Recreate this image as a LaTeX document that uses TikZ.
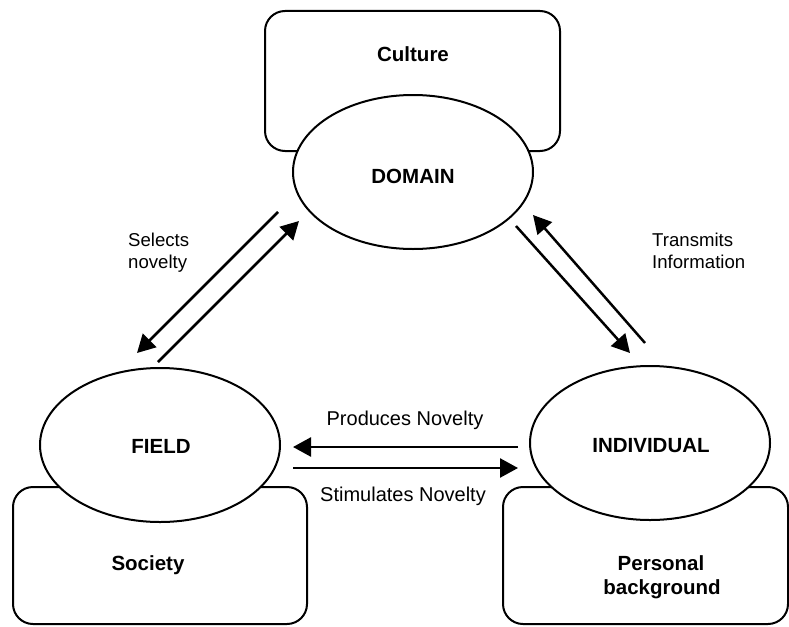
\documentclass[tikz,border=0pt]{standalone}
\usepackage{fontspec}
\setmainfont{Liberation Sans}
\usetikzlibrary{arrows.meta,shapes.geometric}
\tikzset{
  boxstyle/.style={draw=black, line width=2pt, rounded corners=20pt},
  ellstyle/.style={draw=black, fill=white, line width=2pt, ellipse, inner sep=0pt, minimum width=240pt, minimum height=154pt},
  boldlabel/.style={font=\fontsize{20.5}{24}\selectfont\bfseries, inner sep=0pt},
  arrlabel/.style={font=\fontsize{20}{24}\selectfont, inner sep=0pt},
  sidelabel/.style={font=\fontsize{18.6}{22}\selectfont, inner sep=0pt, align=left},
  flow/.style={line width=2.5pt, -{Triangle[length=18pt,width=19pt]}},
}
\begin{document}
\begin{tikzpicture}[x=1pt,y=-1pt]
\useasboundingbox (0,0) rectangle (789,626);
% boxes
\draw[boxstyle] (265,11) rectangle (560,151);
\draw[boxstyle] (13,487) rectangle (307,624);
\draw[boxstyle] (503,487) rectangle (788,624);
% ellipses
\node[ellstyle] (domain) at (413,172) {};
\node[ellstyle] (field) at (160,445) {};
\node[ellstyle] (indiv) at (650,443) {};
% bold labels
\node[boldlabel, anchor=base] (culture) at (413,62) {Culture};
\node[boldlabel, anchor=base] (domaint) at (413,183) {DOMAIN};
\node[boldlabel, anchor=base] (fieldt) at (161,453) {FIELD};
\node[boldlabel, anchor=base] (indivt) at (651,452) {INDIVIDUAL};
\node[boldlabel, anchor=base] (society) at (148,570) {Society};
\node[boldlabel, anchor=base] (personal) at (661,570) {Personal};
\node[boldlabel, anchor=base] (backgr) at (662,594) {background};
% arrow labels
\node[arrlabel, anchor=base] (prod) at (405,425) {Produces Novelty};
\node[arrlabel, anchor=base] (stim) at (403,501) {Stimulates Novelty};
\node[sidelabel, anchor=base west] (sel) at (128,268) {Selects\\novelty};
\node[sidelabel, anchor=base west] (trans) at (652,268) {Transmits\\Information};
% arrow end points
\coordinate (a1s) at (278,212); \coordinate (a1e) at (137,353);
\coordinate (a2s) at (158,362); \coordinate (a2e) at (299,221);
\coordinate (a3s) at (645,343); \coordinate (a3e) at (533,215);
\coordinate (a4s) at (516,226); \coordinate (a4e) at (630,353);
\coordinate (a5s) at (518,447); \coordinate (a5e) at (293,447);
\coordinate (a6s) at (293,468); \coordinate (a6e) at (518,468);
\draw[flow] (a1s) -- (a1e);
\draw[flow] (a2s) -- (a2e);
\draw[flow] (a3s) -- (a3e);
\draw[flow] (a4s) -- (a4e);
\draw[flow] (a5s) -- (a5e);
\draw[flow] (a6s) -- (a6e);
\end{tikzpicture}
\end{document}
